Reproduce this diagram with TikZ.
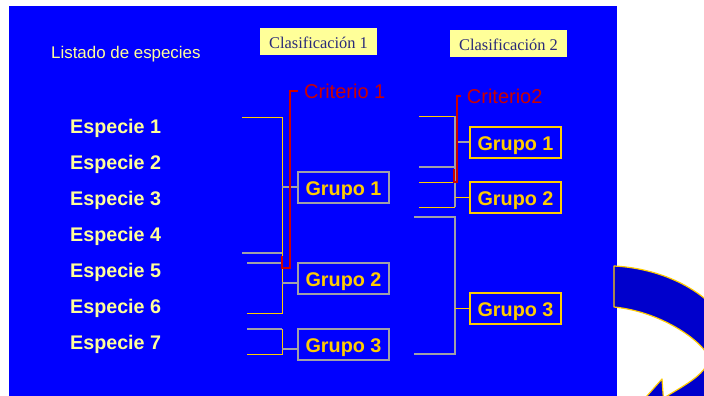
\documentclass[tikz,border=0pt]{standalone}
\usepackage{fontspec}
\setmainfont{Liberation Serif}
\setsansfont{Liberation Sans}
\definecolor{bgblue}{HTML}{0000FF}
\definecolor{paleyellow}{HTML}{FFFF99}
\definecolor{gold}{HTML}{FFCC00}
\definecolor{linegrey}{HTML}{A0A0A8}
\definecolor{critred}{HTML}{CC0000}
\definecolor{navy}{HTML}{2A2A7A}
\definecolor{arrowblue}{HTML}{0000CC}
\begin{document}
\begin{tikzpicture}[x=1pt,y=-1pt,
  species/.style={anchor=base west, inner sep=0, text=paleyellow,
    font=\sffamily\bfseries\fontsize{19.7}{22}\selectfont},
  listlabel/.style={anchor=base west, inner sep=0, text=paleyellow,
    font=\sffamily\fontsize{16.9}{19}\selectfont},
  classbox/.style={fill=paleyellow, inner sep=0, minimum width=117pt,
    minimum height=27pt, text height=13.5pt, text depth=0pt, text=navy,
    font=\rmfamily\fontsize{16.4}{18}\selectfont},
  critlabel/.style={anchor=base west, inner sep=0, text=critred,
    font=\sffamily\fontsize{20}{22}\selectfont},
  groupbox/.style={draw=#1, line width=1.2pt, inner sep=0, minimum width=91pt,
    minimum height=31pt, text height=16.4pt, text depth=0pt, text=gold,
    font=\sffamily\bfseries\fontsize{19.8}{22}\selectfont},
  goldline/.style={draw=gold, line width=1pt},
  greyline/.style={draw=linegrey, line width=1.2pt},
  redline/.style={draw=critred, line width=2pt},
  arrowshape/.style={fill=arrowblue, draw=gold, line width=1.2pt, line join=round}]

\useasboundingbox (0,0) rectangle (704,396);
\fill[white] (0,0) rectangle (704,396);

\begin{scope}
  \clip (0,0) rectangle (704,396);
  % slide background
  \fill[bgblue] (9,6) rectangle (617,400);
  % curved arrow at the lower right
  \path[arrowshape] (614,266) .. controls (655,268) and (700,285) .. (725,320)
    -- (770,380) -- (770,450) -- (608,440) -- (662,379) -- (663.5,400)
    -- (667,396) .. controls (685,385) and (710,372) .. (708,357)
    .. controls (706,345) and (665,312) .. (614,307) -- cycle;
\end{scope}

% species list
\node[listlabel] (listado) at (51,58.3) {Listado de especies};
\foreach \i in {1,...,7} {
  \node[species] (sp\i) at (70,{133.3+36.1*(\i-1)}) {Especie \i};
}

% headings
\node[classbox] (clas1) at (318.5,41.3) {Clasificación 1};
\node[classbox] (clas2) at (508.5,43.3) {Clasificación 2};

% criteria labels
\node[critlabel] (crit1) at (304,99) {Criterio 1};
\node[critlabel] (crit2) at (466.7,103.3) {Criterio2};

% first classification groups
\node[groupbox=linegrey] (g1a) at (343.5,187.5) {Grupo 1};
\node[groupbox=linegrey] (g2a) at (343.5,278.5) {Grupo 2};
\node[groupbox=linegrey] (g3a) at (343.5,344.5) {Grupo 3};

% second classification groups
\node[groupbox=gold] (g1b) at (515.5,142.5) {Grupo 1};
\node[groupbox=gold] (g2b) at (515.5,197.5) {Grupo 2};
\node[groupbox=gold] (g3b) at (515.5,308.5) {Grupo 3};

% brackets of the first classification
\coordinate (L1t) at (242,117);
\coordinate (L1b) at (242,253);
\coordinate (L2t) at (247,263);
\coordinate (L2b) at (247,313);
\coordinate (L3t) at (247,329);
\coordinate (L3b) at (247,354);
\coordinate (Lx) at (282,117);
\coordinate (s1a) at (282,187);
\coordinate (s2a) at (282,283);
\coordinate (s3a) at (282,349);
\draw[goldline] (L1t) -- (L1t -| Lx) -- (L2b -| Lx) -- (L2b);
\draw[greyline] (L1b) -- (L1b -| Lx);
\draw[greyline] (L2t) -- (L2t -| Lx);
\draw[greyline] (L3t) -- (L3t -| Lx);
\draw[goldline] (L3t -| Lx) -- (L3b -| Lx) -- (L3b);
\draw[greyline] (s1a) -- (s1a -| g1a.west);
\draw[greyline] (s2a) -- (s2a -| g2a.west);
\draw[greyline] (s3a) -- (s3a -| g3a.west);

% brackets of the second classification
\coordinate (R1t) at (419,116);
\coordinate (R1b) at (419,167);
\coordinate (R2t) at (419,182);
\coordinate (R2b) at (419,207);
\coordinate (R3t) at (414,217);
\coordinate (R3b) at (414,354);
\coordinate (Rx) at (455,116);
\coordinate (s1b) at (455,142);
\coordinate (s2b) at (455,197);
\coordinate (s3b) at (455,308);
\draw[goldline] (R1t) -- (R1t -| Rx);
\draw[greyline] (R1t -| Rx) -- (R2b -| Rx);
\draw[greyline] (R1b) -- (R1b -| Rx);
\draw[goldline] (R2t) -- (R2t -| Rx);
\draw[goldline] (R2b) -- (R2b -| Rx);
\draw[greyline] (R3t) -- (R3t -| Rx) -- (R3b -| Rx) -- (R3b);
\draw[greyline] (s1b) -- (s1b -| g1b.west);
\draw[goldline] (s2b) -- (s2b -| g2b.west);
\draw[goldline] (s3b) -- (s3b -| g3b.west);

% criterion markers
\coordinate (c1top) at (298,91);
\coordinate (c1spine) at (290,91);
\coordinate (c1foot) at (290,268);
\coordinate (c1end) at (282,256);
\draw[redline] (c1top) -- (c1spine) -- (c1foot) -| (c1end);
\coordinate (c2top) at (461,96);
\coordinate (c2spine) at (457,96);
\coordinate (c2foot) at (457,182);
\coordinate (c2end) at (454,169);
\draw[redline] (c2top) -- (c2spine) -- (c2foot) -| (c2end);
\end{tikzpicture}
\end{document}
